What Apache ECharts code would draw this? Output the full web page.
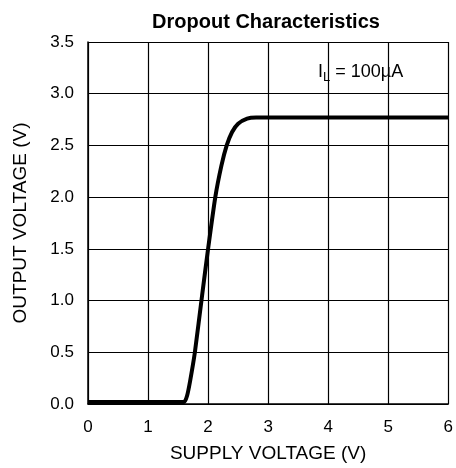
<!DOCTYPE html>
<html><head><meta charset="utf-8">
<script src="https://cdn.jsdelivr.net/npm/echarts@6/dist/echarts.min.js"></script>
<style>html,body{margin:0;padding:0;background:#fff}#c{width:456px;height:468px}</style>
</head><body><div id="c"></div>
<script>
const supplyV = [0, 1.6, 1.65, 1.7, 1.78, 1.9, 2.0, 2.12, 2.22, 2.31, 2.4, 2.5, 2.65, 2.8, 6];
const outputV = [0.02, 0.02, 0.08, 0.22, 0.5, 1.05, 1.5, 2.0, 2.3, 2.5, 2.63, 2.71, 2.76, 2.77, 2.77];
const xTicks = [0, 1, 2, 3, 4, 5, 6];
const yTicks = [0, 0.5, 1, 1.5, 2, 2.5, 3, 3.5];
const font = 'Liberation Sans, Arial, sans-serif';
const chart = echarts.init(document.getElementById('c'));
chart.setOption({
  animation: false,
  title: [{
    text: 'Dropout Characteristics', left: 261, top: 7, textAlign: 'center',
    textStyle: {fontFamily: font, fontSize: 20, fontWeight: 'bold', color: '#000'}
  }, {
    text: '{a|I}{s|L}{a| = 100µA}', left: 313, top: 56,
    textStyle: {rich: {
      a: {fontFamily: font, fontSize: 18, fontWeight: 'normal', color: '#000'},
      s: {fontFamily: font, fontSize: 13, fontWeight: 'normal', color: '#000', verticalAlign: 'bottom', padding: [10, 0, 0, 0]}
    }}
  }],
  grid: {left: 88, right: 4, top: 42, bottom: 64, containLabel: false},
  xAxis: {
    type: 'value', min: 0, max: 6, interval: 1,
    name: 'SUPPLY VOLTAGE (V)', nameLocation: 'middle', nameGap: 40,
    nameTextStyle: {fontFamily: font, fontSize: 19, color: '#000', verticalAlign: 'top'},
    axisLine: {show: true, lineStyle: {color: '#000', width: 1.5}},
    axisTick: {show: false},
    axisLabel: {fontFamily: font, fontSize: 17, color: '#000', margin: 15,
      formatter: v => xTicks.includes(v) ? String(v) : ''},
    splitLine: {show: true, lineStyle: {color: '#000', width: 1.2}}
  },
  yAxis: {
    type: 'value', min: 0, max: 3.5, interval: 0.5,
    name: 'OUTPUT VOLTAGE (V)', nameLocation: 'middle', nameGap: 58, nameRotate: 90,
    nameTextStyle: {fontFamily: font, fontSize: 19, color: '#000'},
    axisLine: {show: true, lineStyle: {color: '#000', width: 1.5}},
    axisTick: {show: false},
    axisLabel: {fontFamily: font, fontSize: 17, color: '#000', margin: 14,
      formatter: v => yTicks.some(t => Math.abs(t - v) < 1e-9) ? v.toFixed(1) : ''},
    splitLine: {show: true, lineStyle: {color: '#000', width: 1.2}}
  },
  series: [{
    type: 'line', smooth: 0.2, showSymbol: false,
    data: supplyV.map((x, i) => [x, outputV[i]]),
    lineStyle: {color: '#000', width: 4}
  }]
});
</script></body></html>
